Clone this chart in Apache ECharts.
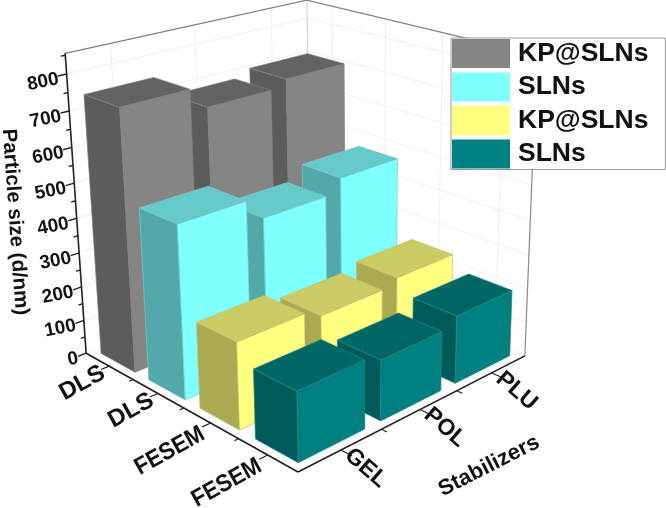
<!DOCTYPE html>
<html><head><meta charset="utf-8">
<style>html,body{margin:0;padding:0;background:#fff}#c{width:666px;height:508px}</style>
<script src="https://cdn.jsdelivr.net/npm/echarts@6/dist/echarts.min.js"></script>
</head><body><div id="c"></div>
<script>
// ---- data ----
const methods = ['DLS', 'DLS', 'FESEM', 'FESEM'];
const stabilizers = ['GEL', 'POL', 'PLU'];
const sizeTicks = [0, 100, 200, 300, 400, 500, 600, 700, 800];
const kpDls = [745, 683, 703];
const slnDls = [490, 427, 466];
const kpFesem = [243, 218, 236];
const slnFesem = [192, 171, 196];
const legendNames = ['KP@SLNs', 'SLNs', 'KP@SLNs', 'SLNs'];

// ---- 3D view: perspective box drawn through the cartesian grid ----
const FONT = '"Liberation Sans", Arial, sans-serif';
const ORIGIN = [298, 472], VP_A = [-1175, -354], VP_B = [1908, -352], VP_W = [365, 4343];
const WA = 0.168, WB = 0.164, WV = -9.55e-5, VMAX = 855;
function project(a, b, v) {
  const t = a * WA, s = b * WB, k = v * WV, d = 1 + t + s + k;
  return [
    (ORIGIN[0] + t * VP_A[0] + s * VP_B[0] + k * VP_W[0]) / d,
    (ORIGIN[1] + t * VP_A[1] + s * VP_B[1] + k * VP_W[1]) / d
  ];
}
const rowCount = methods.length, colCount = stabilizers.length;
const rowCenter = i => 1 - (i + 0.5) / rowCount;   // a runs from the front corner to the left corner
const colCenter = j => (j + 0.5) / colCount;
const HALF_A = 0.09, HALF_B = 0.133;

const faces = [
  { front: '#858585', left: '#5c5c5c', top: '#636363', edge: '#808080' },
  { front: '#80ffff', left: '#53a9a9', top: '#66caca', edge: '#78c8c8' },
  { front: '#ffff80', left: '#aaaa52', top: '#cccc66', edge: '#c0c070' },
  { front: '#008080', left: '#005a5a', top: '#006666', edge: '#1f8585' }
];

function barRenderer(row) {
  return function (params, api) {
    const j = api.value(1), v = api.value(2);
    const a0 = rowCenter(row) - HALF_A, a1 = rowCenter(row) + HALF_A;
    const b0 = colCenter(j) - HALF_B, b1 = colCenter(j) + HALF_B;
    const P = (a, b, h) => api.coord(project(a, b, h));
    const f = faces[row];
    const st = fill => ({ fill, stroke: f.edge, lineWidth: 0.7, lineJoin: 'round' });
    return {
      type: 'group',
      children: [
        { type: 'polygon', shape: { points: [P(a1, b0, 0), P(a0, b0, 0), P(a0, b0, v), P(a1, b0, v)] }, style: st(f.left) },
        { type: 'polygon', shape: { points: [P(a0, b0, 0), P(a0, b1, 0), P(a0, b1, v), P(a0, b0, v)] }, style: st(f.front) },
        { type: 'polygon', shape: { points: [P(a0, b0, v), P(a0, b1, v), P(a1, b1, v), P(a1, b0, v)] }, style: st(f.top) }
      ]
    };
  };
}

function label(api, pos, text, size, rotDeg, extra) {
  const c = api.coord(pos);
  return Object.assign({
    type: 'text', x: c[0], y: c[1], rotation: rotDeg * Math.PI / 180,
    style: { text, fill: '#111', font: 'bold ' + size + 'px ' + FONT, align: 'center', verticalAlign: 'middle' }
  }, extra || {});
}

function frameRenderer(params, api) {
  const ch = [];
  const line = (p, q, color, w) => {
    const c1 = api.coord(p), c2 = api.coord(q);
    ch.push({ type: 'line', shape: { x1: c1[0], y1: c1[1], x2: c2[0], y2: c2[1] }, style: { stroke: color, lineWidth: w } });
  };
  const GRID = '#efefef', DARK = '#222', EDGE = '#808080';
  // wall and floor gridlines
  sizeTicks.forEach(v => {
    line(project(1, 0, v), project(1, 1, v), GRID, 1);
    line(project(1, 1, v), project(0, 1, v), GRID, 1);
  });
  for (let i = 0; i < rowCount; i++) {
    const a = rowCenter(i);
    line(project(a, 0, 0), project(a, 1, 0), GRID, 1);
    line(project(a, 1, 0), project(a, 1, VMAX), GRID, 1);
  }
  for (let j = 0; j < colCount; j++) {
    const b = colCenter(j);
    line(project(0, b, 0), project(1, b, 0), GRID, 1);
    line(project(1, b, 0), project(1, b, VMAX), GRID, 1);
  }
  // box edges
  line(project(1, 1, 0), project(1, 1, VMAX), '#cfcfcf', 1);
  line(project(1, 0, VMAX), project(1, 1, VMAX), EDGE, 1.2);
  line(project(1, 1, VMAX), project(0, 1, VMAX), EDGE, 1.2);
  line(project(0, 1, 0), project(0, 1, VMAX), '#8a8a8a', 1.2);
  // axes
  line(project(1, 0, 0), project(1, 0, VMAX), DARK, 1.6);
  line(project(1, 0, 0), project(0, 0, 0), DARK, 1.6);
  line(project(0, 0, 0), project(0, 1, 0), DARK, 1.6);
  // size axis ticks
  for (let v = 0; v <= 850; v += 50) {
    line(project(1, 0, v), project(1, v % 100 === 0 ? -0.032 : -0.016, v), DARK, 1.4);
  }
  // method axis ticks
  for (let i = 0; i < rowCount; i++) {
    line(project(rowCenter(i), 0, 0), project(rowCenter(i), -0.032, 0), DARK, 1.2);
    if (i > 0) line(project(1 - i / rowCount, 0, 0), project(1 - i / rowCount, -0.016, 0), DARK, 1.2);
  }
  // stabilizer axis ticks
  for (let j = 0; j < colCount; j++) {
    line(project(0, colCenter(j), 0), project(-0.045, colCenter(j), 0), DARK, 1.2);
    if (j > 0) line(project(0, j / colCount, 0), project(-0.022, j / colCount, 0), DARK, 1.2);
  }
  // labels
  sizeTicks.forEach(v => {
    const p = project(1, 0, v);
    ch.push({
      type: 'text', x: api.coord(p)[0] - 8, y: api.coord(p)[1] + 5, rotation: 11 * Math.PI / 180,
      style: { text: String(v), fill: '#111', font: 'bold 19px ' + FONT, align: 'right', verticalAlign: 'middle' }
    });
  });
  methods.forEach((m, i) => {
    const p = project(rowCenter(i), 0, 0);
    const c = m.length > 3 ? [-41, 28] : [-27, 17];
    ch.push(label(api, [p[0] + c[0], p[1] + c[1]], m, 24, 29, m.length > 3 ? { scaleX: 0.92 } : {}));
  });
  stabilizers.forEach((s, j) => {
    const p = project(0, colCenter(j), 0);
    ch.push(label(api, [p[0] + 25, p[1] + 18], s, 23, -41));
  });
  ch.push(label(api, [489, 466], 'Stabilizers', 22, 27));
  ch.push(label(api, [15, 222], 'Particle size (d/nm)', 20.5, -86));
  return { type: 'group', children: ch };
}

const seriesValues = [kpDls, slnDls, kpFesem, slnFesem];
const seriesIds = legendNames.map((n, i) => n + ' (' + methods[i] + ')');

const option = {
  animation: false,
  backgroundColor: '#fff',
  grid: { left: 0, right: 0, top: 0, bottom: 0 },
  xAxis: { type: 'value', min: 0, max: 666, show: false },
  yAxis: { type: 'value', min: 0, max: 508, inverse: true, show: false },
  legend: {
    data: seriesIds, orient: 'vertical', left: 451, top: 38,
    itemWidth: 58, itemHeight: 29, itemGap: 4.5, icon: 'rect', selectedMode: false,
    padding: [1, 17, 1, 1], backgroundColor: '#fff', borderColor: '#9a9a9a', borderWidth: 1,
    formatter: n => n.replace(/ \(.*\)$/, ''),
    textStyle: { fontFamily: FONT, fontWeight: 'bold', fontSize: 26.5, color: '#111', padding: [0, 0, 0, 3] }
  },
  series: [
    {
      type: 'custom', name: 'frame', coordinateSystem: 'cartesian2d', silent: true, clip: false,
      data: [[0, 0]], renderItem: frameRenderer, z: 1
    }
  ].concat(seriesValues.map((vals, row) => ({
    type: 'custom', name: seriesIds[row], coordinateSystem: 'cartesian2d', clip: false,
    itemStyle: { color: faces[row].front },
    // far bars first so nearer bars paint over them
    data: vals.map((v, j) => [row, j, v]).reverse(),
    encode: { x: 0, y: 2 },
    renderItem: barRenderer(row),
    z: 2 + row
  })))
};
const chart = echarts.init(document.getElementById('c'), null, { renderer: 'canvas' });
chart.setOption(option);
</script></body></html>
